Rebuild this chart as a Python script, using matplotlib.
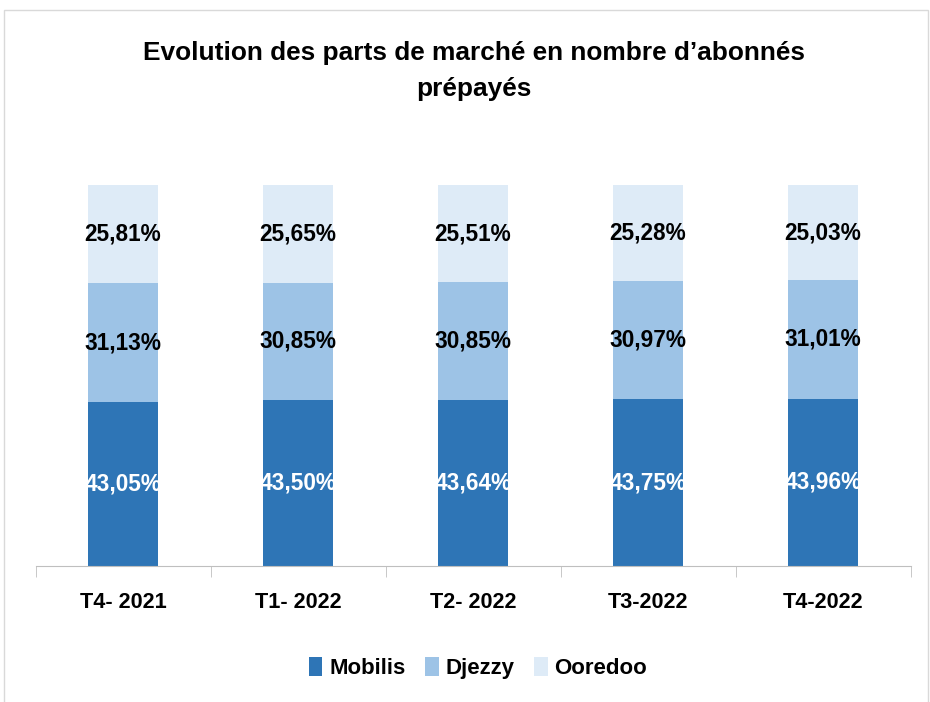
import matplotlib.pyplot as plt
import numpy as np
from matplotlib.patches import Rectangle

plt.rcParams['font.family'] = ['Liberation Sans', 'DejaVu Sans']
plt.rcParams['font.weight'] = 'bold'

periodes = ["T4- 2021", "T1- 2022", "T2- 2022", "T3-2022", "T4-2022"]
mobilis = [43.05, 43.50, 43.64, 43.75, 43.96]
djezzy = [31.13, 30.85, 30.85, 30.97, 31.01]
ooredoo = [25.81, 25.65, 25.51, 25.28, 25.03]

couleurs = ["#2E75B6", "#9DC3E6", "#DEEBF7"]
noms = ["Mobilis", "Djezzy", "Ooredoo"]

fig = plt.figure(figsize=(9.3, 7.02), dpi=100)
ax = fig.add_axes([35.5/930, 1-566/702, 875/930, 381/702])

x = np.arange(len(periodes))
bas = np.zeros(len(periodes))
for serie, c, nom in zip([mobilis, djezzy, ooredoo], couleurs, noms):
    v = np.array(serie)
    ax.bar(x, v, 0.4, bottom=bas, color=c, label=nom)
    for xi, b, vi in zip(x, bas, v):
        txt = f"{vi:.2f}%".replace(".", ",")
        ax.text(xi, b + vi/2, txt, ha="center", va="center", fontsize=16.3,
                fontweight="bold", color="white" if nom == "Mobilis" else "black")
    bas = bas + v

ax.set_xlim(-0.5, 4.5)
ax.set_ylim(0, 100)
ax.set_yticks([])
for s in ["top", "right", "left"]:
    ax.spines[s].set_visible(False)
ax.spines["bottom"].set_color("#bfbfbf")
ax.set_xticks(x)
ax.set_xticklabels(periodes, fontsize=15.6, fontweight="bold")
ax.set_xticks(np.arange(-0.5, 5, 1), minor=True)
ax.tick_params(axis="x", which="major", length=0, pad=19)
ax.tick_params(axis="x", which="minor", length=8, color="#bfbfbf")

fig.text(474/930, 1-53/702, "Evolution des parts de marché en nombre d’abonnés",
         ha="center", va="center", fontsize=18.9, fontweight="bold")
fig.text(474/930, 1-89/702, "prépayés", ha="center", va="center",
         fontsize=18.9, fontweight="bold")

fig.legend(loc="center", bbox_to_anchor=(478/930, 1-668/702), ncol=3,
           frameon=False, fontsize=16, handlelength=0.6, handleheight=0.9,
           handletextpad=0.3, columnspacing=0.9)

fig.patches.append(Rectangle((4/930, -0.01), 924/930, 1-10/702 + 0.01,
                             transform=fig.transFigure, fill=False,
                             edgecolor="#d9d9d9", linewidth=1))

fig.savefig("out.png", dpi=100)
